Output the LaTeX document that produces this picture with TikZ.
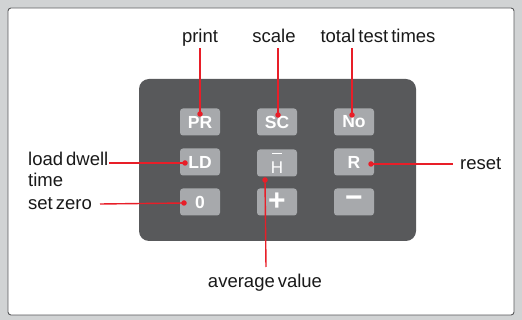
\documentclass[tikz,border=0pt]{standalone}
\usepackage{fontspec}
\setmainfont{Liberation Sans}
\definecolor{padgray}{RGB}{88,89,91}
\definecolor{keygray}{RGB}{167,169,172}
\definecolor{outgray}{RGB}{209,211,212}
\definecolor{leadred}{RGB}{232,30,40}
\newcommand{\tagfont}{\fontsize{18.5}{18.5}\selectfont\spaceskip=0.16em\relax}
\newcommand{\barH}{\setbox0\hbox{H}\vbox{\hbox to\wd0{\hss\vrule width 0.75\wd0 height 1.5pt\hss}\kern2pt\box0}}
\begin{document}
\begin{tikzpicture}[x=1pt,y=-1pt]

% --- Styles ---
\tikzset{
    key/.style={fill=keygray, rounded corners=3pt, minimum width=40pt, minimum height=27pt, inner sep=0pt, text=white, font=\fontsize{17.5}{17.5}\selectfont\bfseries},
    tag/.style={text=black!90, inner sep=1pt, text depth=4pt, font=\tagfont},
    dot/.style={circle, fill=leadred, inner sep=0pt, minimum size=5.5pt},
    lead/.style={draw=leadred, line width=1.4pt}
}

    % Frame
    \fill[outgray] (0,0) rectangle (522,320);
    \draw[fill=white, draw=padgray, line width=0.9pt, rounded corners=3pt] (8,8) rectangle (514,315);

    % Keypad
    \fill[padgray, rounded corners=10pt] (139,79) rectangle (416,241);
    \node[key] (pr) at (200,122) {PR};
    \node[key] (sc) at (277,122) {SC};
    \node[key] (no) at (354,122) {No};
    \node[key] (ld) at (200,162) {LD};
    \node[key] (hbar) at (277,163) {\fontsize{17}{17}\selectfont\mdseries\barH};
    \node[key] (r) at (354,162) {R};
    \node[key] (zero) at (200,202) {0};
    \node[key] (plus) at (277,202) {\fontsize{30}{30}\selectfont +};
    \node[key] (minus) at (354,202) {\fontsize{30}{30}\selectfont −};

    % Dots on the keys
    \node[dot] (pr-dot) at (200,114) {};
    \node[dot] (sc-dot) at (278,115) {};
    \node[dot] (no-dot) at (352,115) {};
    \node[dot] (ld-dot) at (185,163) {};
    \node[dot] (r-dot) at (371,164) {};
    \node[dot] (zero-dot) at (184,203) {};
    \node[dot] (hbar-dot) at (265,180) {};

    % Labels
    \node[tag, anchor=base] (print) at (200,43) {print};
    \node[tag, anchor=base] (scale) at (274,43) {scale};
    \node[tag, anchor=base] (total) at (378,43) {total test times};
    \node[tag, anchor=base west] (dwell) at (27,166) {load dwell};
    \node[tag, anchor=base west] (dwell-time) at (27,187) {time};
    \node[tag, anchor=base west] (setzero) at (27,210) {set zero};
    \node[tag, anchor=base west] (reset) at (459,170) {reset};
    \node[tag, anchor=base] (average) at (265,288) {average value};

    % Free ends of the leads
    \coordinate (setzero-end) at (100,204);
    \coordinate (reset-end) at (453,164);
    \coordinate (average-end) at (266,267);

    % Leads
    \draw[lead] (pr-dot.center) -- (print.south);
    \draw[lead] (sc-dot.center) -- (sc-dot.center |- scale.south);
    \draw[lead] (no-dot.center) -- (no-dot.center |- total.south);
    \draw[lead] (ld-dot.center) -- (dwell.base east |- ld-dot.center);
    \draw[lead] (zero-dot.center) -- (setzero-end);
    \draw[lead] (r-dot.center) -- (reset-end);
    \draw[lead] (hbar-dot.center) -- (average-end);

\end{tikzpicture}
\end{document}
